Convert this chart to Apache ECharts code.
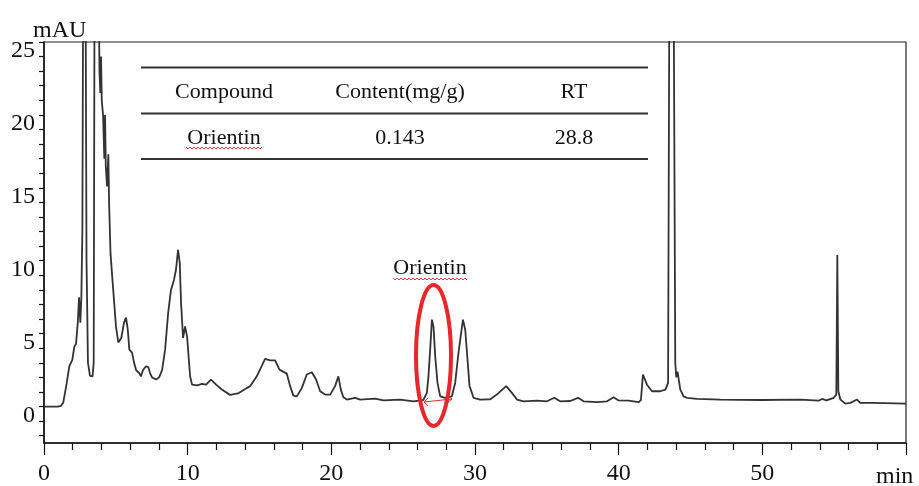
<!DOCTYPE html>
<html>
<head>
<meta charset="utf-8">
<title>Orientin chromatogram</title>
<script src="https://cdn.jsdelivr.net/npm/echarts@6/dist/echarts.min.js"></script>
<style>
html,body{margin:0;padding:0;background:#fff;}
#main{width:919px;height:486px;}
</style>
</head>
<body>
<div id="main"></div>
<script>
// retention time (min) and signal (mAU)
const timeMin = [0, 0.97, 1.18, 1.34, 1.58, 1.76, 1.97, 2.11, 2.23, 2.35, 2.44, 2.53, 2.60, 2.67, 2.73, 2.81, 2.89, 2.96, 3.06, 3.20,
  3.38, 3.46, 3.52, 3.66, 3.80, 3.86, 3.92, 3.97, 4.02, 4.11, 4.20, 4.25, 4.30, 4.39, 4.48, 4.53, 4.63, 4.78, 4.87, 5.01,
  5.17, 5.38, 5.57, 5.71, 5.83, 5.94, 6.13, 6.27, 6.41, 6.62, 6.75, 6.89, 7.10, 7.26, 7.38, 7.52, 7.80, 8.01, 8.22, 8.43,
  8.64, 8.84, 9.05, 9.19, 9.33, 9.45, 9.54, 9.68, 9.82, 9.96, 10.17, 10.31, 10.65, 11.0, 11.28, 11.63, 11.98, 12.40, 12.95, 13.51,
  14.0, 14.35, 14.81, 15.39, 15.74, 16.09, 16.39, 16.90, 17.13, 17.36, 17.60, 17.95, 18.29, 18.64, 18.94, 19.22, 19.57, 19.92, 20.26, 20.49,
  20.66, 20.84, 21.08, 21.66, 22.01, 23.05, 23.63, 24.79, 25.72, 26.41, 26.65, 26.76, 26.88, 27.0, 27.11, 27.23, 27.39, 27.58, 27.92, 28.39,
  28.62, 28.85, 29.16, 29.32, 29.48, 29.62, 29.90, 30.36, 31.06, 31.52, 32.17, 32.57, 32.92, 33.38, 34.31, 35.01, 35.52, 35.93, 36.63, 37.17,
  37.56, 38.49, 39.19, 39.64, 39.99, 40.69, 41.39, 41.55, 41.69, 41.97, 42.32, 42.90, 43.25, 43.44, 43.52, 43.68, 43.84, 43.94, 44.01, 44.10,
  44.29, 44.52, 44.76, 45.45, 47.08, 49.86, 52.65, 53.92, 54.16, 54.46, 54.97, 55.15, 55.22, 55.29, 55.43, 55.78, 56.13, 56.59, 56.82, 57.75, 60.0];
const signal = [0, 0, 0.05, 0.27, 1.6, 2.76, 3.2, 4.1, 4.3, 5.75, 7.5, 5.75, 7.5, 12, 30, 60, 30, 10, 3, 2.1,
  2.07, 3, 30, 90, 30, 23, 21.5, 24, 21, 20, 17, 20, 16.5, 15.1, 17.3, 14, 10.5, 8.5, 8.4, 5.5,
  4.4, 4.7, 5.75, 6.1, 5.3, 3.9, 3.7, 3.0, 2.5, 2.3, 2.07, 2.5, 2.76, 2.7, 2.3, 2.0, 1.85, 2.0, 2.5, 3.9,
  6.4, 8.0, 8.7, 9.4, 10.75, 9.85, 7.1, 4.7, 5.5, 4.8, 2.07, 1.5, 1.45, 1.55, 1.5, 1.85, 1.5, 1.15, 0.8, 0.9,
  1.2, 1.4, 2.07, 3.27, 3.17, 3.17, 2.53, 2.26, 1.4, 0.75, 0.7, 1.28, 2.2, 2.35, 1.85, 1.05, 0.82, 0.82, 1.4, 2.07,
  1.16, 0.64, 0.48, 0.6, 0.48, 0.55, 0.43, 0.48, 0.36, 0.45, 0.94, 2.07, 3.9, 5.96, 5.5, 3.45, 1.62, 0.7, 0.6, 0.7,
  1.62, 3.68, 5.96, 5.27, 3.2, 1.4, 0.6, 0.48, 0.5, 0.82, 1.4, 0.94, 0.48, 0.36, 0.41, 0.36, 0.6, 0.36, 0.38, 0.6,
  0.36, 0.3, 0.36, 0.64, 0.42, 0.41, 0.3, 0.45, 2.2, 1.5, 1.05, 1.05, 1.16, 1.62, 26, 200, 26, 3.0, 2.0, 2.4,
  1.16, 0.7, 0.6, 0.52, 0.48, 0.45, 0.48, 0.4, 0.52, 0.42, 0.6, 0.82, 10.4, 1.05, 0.48, 0.2, 0.25, 0.48, 0.25, 0.25, 0.2];

const yLabelValues = [0, 5, 10, 15, 20, 25];
const yTickValues = [-2, -1, 0, 1, 2, 3, 4, 5, 6, 7, 8, 9, 10, 11, 12, 13, 14, 15, 16, 17, 18, 19, 20, 21, 22, 23, 24, 25];
const tableHead = ['Compound', 'Content(mg/g)', 'RT'];
const tableRow = ['Orientin', '0.143', '28.8'];
const peakName = 'Orientin';

const serif = 'Liberation Serif';
const chart = echarts.init(document.getElementById('main'));

// spell-check style red squiggle under a word
function squiggle(x0, x1, y) {
  const pts = [];
  let up = true;
  for (let x = x0; x <= x1; x += 2) {
    pts.push([x, up ? y : y + 2]);
    up = !up;
  }
  return { type: 'polyline', shape: { points: pts }, style: { stroke: '#e23b3b', lineWidth: 1, fill: null }, z: 10 };
}

const colX = [224, 400, 574];
const graphics = [
  { type: 'text', left: 33, top: 19, style: { text: 'mAU', font: '24px ' + serif, fill: '#111' } },
  { type: 'text', left: 876, top: 465, style: { text: 'min', font: '24px ' + serif, fill: '#111' } },
  { type: 'line', shape: { x1: 141, y1: 67.5, x2: 648, y2: 67.5 }, style: { stroke: '#333', lineWidth: 2 } },
  { type: 'line', shape: { x1: 141, y1: 113.5, x2: 648, y2: 113.5 }, style: { stroke: '#333', lineWidth: 2 } },
  { type: 'line', shape: { x1: 141, y1: 159, x2: 648, y2: 159 }, style: { stroke: '#333', lineWidth: 2 } },
  squiggle(186, 262, 147),
  // annotation above the peak
  { type: 'text', x: 430, y: 268, style: { text: peakName, font: '22px ' + serif, fill: '#111', align: 'center', verticalAlign: 'middle' } },
  squiggle(393, 468, 278),
  { type: 'ellipse', shape: { cx: 433.5, cy: 355.5, rx: 17.5, ry: 70.5 }, style: { stroke: '#e8262b', lineWidth: 4, fill: null }, z: 10 },
  { type: 'line', shape: { x1: 424, y1: 402, x2: 452, y2: 399 }, style: { stroke: '#e8262b', lineWidth: 1 }, z: 10 },
  { type: 'polyline', shape: { points: [[428, 398], [424, 402], [428, 406]] }, style: { stroke: '#e8262b', lineWidth: 1, fill: null }, z: 10 },
  { type: 'polyline', shape: { points: [[447, 395], [452, 399], [447, 403]] }, style: { stroke: '#e8262b', lineWidth: 1, fill: null }, z: 10 }
];
tableHead.forEach(function (t, i) {
  graphics.push({ type: 'text', x: colX[i], y: 92, style: { text: t, font: '22px ' + serif, fill: '#111', align: 'center', verticalAlign: 'middle' } });
});
tableRow.forEach(function (t, i) {
  graphics.push({ type: 'text', x: colX[i], y: 138, style: { text: t, font: '22px ' + serif, fill: '#111', align: 'center', verticalAlign: 'middle' } });
});

chart.setOption({
  animation: false,
  grid: { left: 44, right: 13, top: 42, bottom: 43, show: true, borderColor: '#222', borderWidth: 1.2, backgroundColor: 'transparent' },
  xAxis: {
    type: 'value', min: 0, max: 60, interval: 10,
    axisLine: { onZero: false, lineStyle: { color: '#111', width: 1.5 } },
    axisTick: { show: true, length: 12, lineStyle: { color: '#111', width: 1.2 } },
    minorTick: { show: true, splitNumber: 5, length: 7, lineStyle: { color: '#111', width: 1.2 } },
    splitLine: { show: false },
    axisLabel: {
      fontFamily: serif, fontSize: 24, color: '#111', margin: 19,
      formatter: function (v) { return v === 60 ? '' : String(v); }
    }
  },
  yAxis: {
    type: 'value', min: -2.5, max: 25,
    axisLine: { show: true, onZero: false, lineStyle: { color: '#111', width: 1.5 } },
    axisTick: { show: true, length: 5, customValues: yTickValues, lineStyle: { color: '#111', width: 1.2 } },
    splitLine: { show: false },
    axisLabel: {
      fontFamily: serif, fontSize: 24, color: '#111', margin: 9, verticalAlign: 'top', lineHeight: 18,
      customValues: yLabelValues
    }
  },
  series: [{
    type: 'line',
    data: timeMin.map(function (t, i) { return [t, signal[i]]; }),
    symbol: 'none',
    clip: true,
    lineStyle: { color: '#333', width: 1.8 }
  }],
  graphic: graphics
});
</script>
</body>
</html>
